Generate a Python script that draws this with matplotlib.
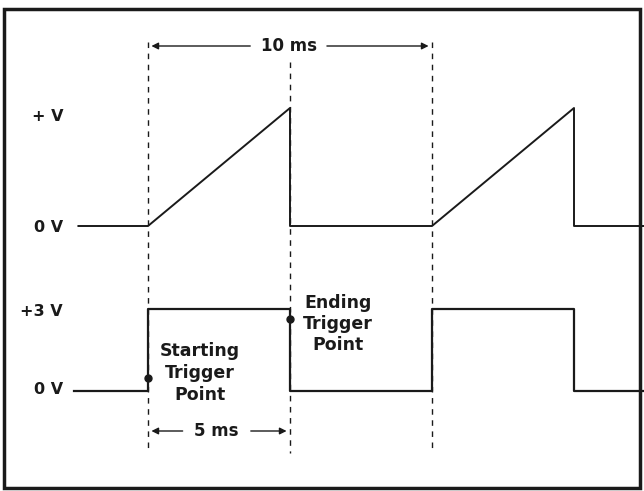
import matplotlib
matplotlib.use("Agg")
import matplotlib.pyplot as plt
from matplotlib.patches import Rectangle

# ---- data (time in ms, normalized levels 0..1) ----
saw_t = [-2.45, 0, 5, 5, 10, 15, 15, 17.45]
saw_v = [0, 0, 1, 0, 0, 1, 0, 0]
sq_t = [-2.6, 0, 0, 5, 5, 10, 10, 15, 15, 17.45]
sq_v = [0, 0, 1, 1, 0, 0, 1, 1, 0, 0]
trigger_t = [0, 5]
trigger_v = [0.16, 0.88]
marker_t = [0, 5, 10]
saw_labels = ["+ V", "0 V"]
sq_labels = ["+3 V", "0 V"]
period_label = "10 ms"
half_label = "5 ms"
start_label = "Starting\nTrigger\nPoint"
end_label = "Ending\nTrigger\nPoint"

# ---- layout (pixel-like vertical positions) ----
PX_PER_MS = 28.4
X0 = 148
SAW_BASE, SAW_AMP = 226, 118
SQ_BASE, SQ_AMP = 391, 82

fig = plt.figure(figsize=(6.44, 4.91), dpi=100)
ax = fig.add_axes([0, 0, 1, 1])
ax.set_xlim(-X0 / PX_PER_MS, (644 - X0) / PX_PER_MS)
ax.set_ylim(491, 0)
ax.axis("off")

col = "#1a1a1a"
ax.plot(saw_t, [SAW_BASE - v * SAW_AMP for v in saw_v], color=col, lw=1.4)
ax.plot(sq_t, [SQ_BASE - v * SQ_AMP for v in sq_v], color=col, lw=1.6)

# dashed markers
tops = [42, 62, 42]
for t, top in zip(marker_t, tops):
    ax.plot([t, t], [top, 453], color=col, lw=1.0, ls=(0, (4, 4)))

# trigger dots
ax.plot(trigger_t, [SQ_BASE - v * SQ_AMP for v in trigger_v], "o",
        color=col, ms=5)

fp = dict(family="DejaVu Sans", weight="bold", color=col)
lx = (63 - X0) / PX_PER_MS
ax.text(lx, 116, saw_labels[0], ha="right", va="center", fontsize=11.5, **fp)
ax.text(lx, 228, saw_labels[1], ha="right", va="center", fontsize=11.5, **fp)
ax.text(lx, 311, sq_labels[0], ha="right", va="center", fontsize=11.5, **fp)
ax.text(lx, 390, sq_labels[1], ha="right", va="center", fontsize=11.5, **fp)

ax.text(1.82, 373, start_label, ha="center", va="center", fontsize=12.5,
        linespacing=1.25, **fp)
ax.text(6.7, 324, end_label, ha="center", va="center", fontsize=12.5,
        linespacing=1.25, **fp)

# dimension arrows
def dim(t0, t1, y, label, tc, half_w):
    ax.text(tc, y, label, ha="center", va="center", fontsize=12, **fp)
    ap = dict(arrowstyle="-|>", color=col, lw=1.0, mutation_scale=10,
              shrinkA=0, shrinkB=0)
    ax.annotate("", xy=(t0, y), xytext=(tc - half_w, y), arrowprops=ap)
    ax.annotate("", xy=(t1, y), xytext=(tc + half_w, y), arrowprops=ap)

dim(0.12, 9.88, 46, period_label, 4.95, 1.35)
dim(0.12, 4.88, 431, half_label, 2.42, 1.2)

# frame
fig.patches.append(Rectangle((4 / 644, 3 / 491), 636 / 644, 479 / 491,
                             transform=fig.transFigure, fill=False,
                             edgecolor=col, lw=2.5))

fig.savefig("out.png", dpi=100)
